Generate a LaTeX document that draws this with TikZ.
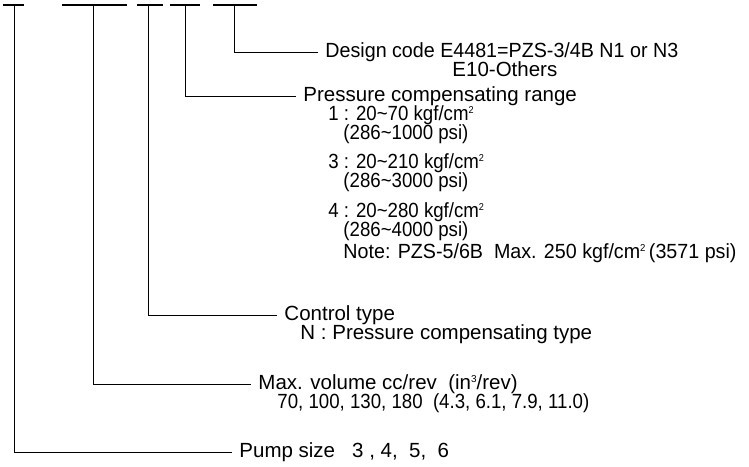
\documentclass[tikz,border=0pt]{standalone}
\usepackage{fontspec}
\setmainfont{Liberation Sans}
\newfontfamily\numfont[FakeStretch=0.91]{Liberation Sans}
\newfontfamily\notefont[FakeStretch=0.96]{Liberation Sans}
\newcommand{\tightlines}{\lineskiplimit=-30pt\relax}
\usetikzlibrary{positioning}

\begin{document}
\begin{tikzpicture}[x=1pt, y=-1pt, line width=0.9pt,
    entry/.style={anchor=base west, inner xsep=7pt, inner ysep=0pt, align=left,
        font={\fontsize{20.5}{19}\selectfont\tightlines}}]

        % --- FRAME ---
        \useasboundingbox (0,0) rectangle (749,466);

        % --- PARAMETERS ---
        \def\barY{5}
        \def\sq{\raisebox{7pt}{\fontsize{10}{10}\selectfont 2}}

        % --- CODE BARS (TOP) ---
        \draw[line width=1.3pt] (3,\barY) -- (24,\barY);
        \draw[line width=1.3pt] (62,\barY) -- (127,\barY);
        \draw[line width=1.3pt] (137,\barY) -- (163,\barY);
        \draw[line width=1.3pt] (170,\barY) -- (200,\barY);
        \draw[line width=1.3pt] (213,\barY) -- (257,\barY);
        \coordinate (size) at (14,\barY);
        \coordinate (vol) at (93,\barY);
        \coordinate (ctrl) at (148,\barY);
        \coordinate (press) at (185,\barY);
        \coordinate (design) at (234,\barY);

        % --- LABELS ---
        \node[entry] (Ldesign) at (318,76) {{\notefont Design code E4481=PZS-3/4B N1 or N3}\\
            \hspace*{127pt}E10-Others};

        \node[entry] (Lpress) at (296,258) {Pressure compensating range\\
            \hspace*{25pt}{\numfont 1 : 20\textasciitilde70 kgf/cm\sq}\\
            \hspace*{40pt}{\numfont (286\textasciitilde1000 psi)}\\[10.5pt]
            \hspace*{25pt}{\numfont 3 : 20\textasciitilde210 kgf/cm\sq}\\
            \hspace*{40pt}{\numfont (286\textasciitilde3000 psi)}\\[10.5pt]
            \hspace*{25pt}{\numfont 4 : 20\textasciitilde280 kgf/cm\sq}\\
            \hspace*{40pt}{\numfont (286\textasciitilde4000 psi)}\\[3pt]
            \hspace*{40pt}{\notefont Note: PZS-5/6B\ \ Max. 250 kgf/cm\sq\,(3571 psi)}};

        \node[entry] (Lctrl) at (277,339) {Control type\\
            \hspace*{16pt}N : Pressure compensating type};

        \node[entry] (Lvol) at (251,408) {Max. volume cc/rev\ \ (in\raisebox{7pt}{\fontsize{10}{10}\selectfont 3}/rev)\\
            \hspace*{19pt}{\numfont 70, 100, 130, 180\ \ (4.3, 6.1, 7.9, 11.0)}};

        \node[entry] (Lsize) at (232,457) {Pump size\ \ \ 3 , 4,\ \ 5,\ \ 6};

        % --- LEADERS ---
        \draw (design) |- ([yshift=24pt]Ldesign.base west);
        \draw (press) |- ([yshift=162pt]Lpress.base west);
        \draw (ctrl) |- ([yshift=24pt]Lctrl.base west);
        \draw (vol) |- ([yshift=24pt]Lvol.base west);
        \draw (size) |- ([yshift=5pt]Lsize.base west);

\end{tikzpicture}
\end{document}
